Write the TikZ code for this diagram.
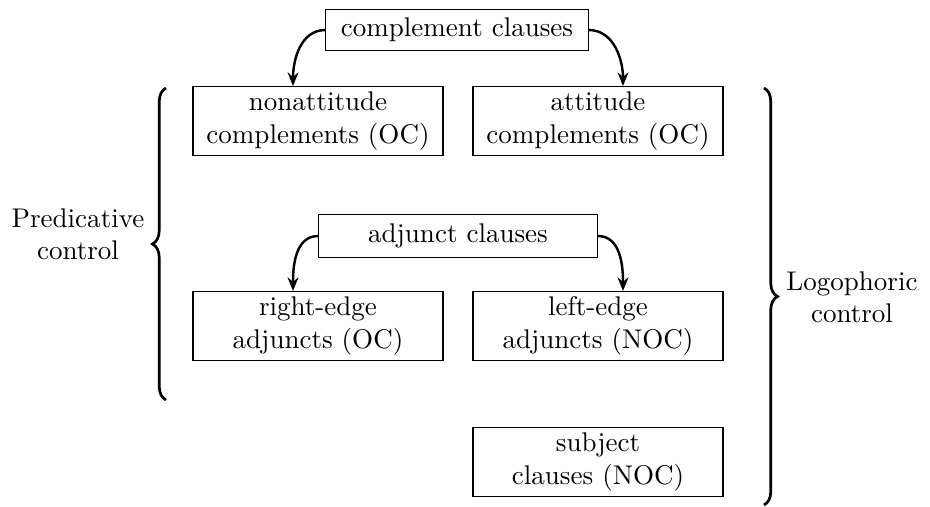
\documentclass[tikz,border=0pt]{standalone}
\usetikzlibrary{arrows.meta,decorations.pathreplacing}
\begin{document}
\begin{tikzpicture}[x=0.37pt,y=-0.37pt,
    box/.style={draw,align=center,minimum width=92.5pt,minimum height=25.5pt,inner sep=2pt},
    head/.style={draw,minimum height=15.5pt,inner xsep=3pt,inner ysep=2pt},
    arr/.style={-{Stealth[length=5pt,width=4pt]},line width=0.9pt},
    brc/.style={decorate,decoration={brace,amplitude=5pt},line width=1pt}]
  \useasboundingbox (0,0) rectangle (930,506);
  % boxes
  \node[head,minimum width=97pt] (cc) at (457,30) {complement clauses};
  \node[box] (nonatt) at (318,121) {nonattitude\\complements (OC)};
  \node[box] (att) at (598,121) {attitude\\complements (OC)};
  \node[head,minimum width=103pt,minimum height=16pt] (ac) at (458,236) {adjunct clauses};
  \node[box] (rea) at (318,326) {right-edge\\adjuncts (OC)};
  \node[box] (lea) at (598,326) {left-edge\\adjuncts (NOC)};
  \node[box] (subj) at (598,462) {subject\\clauses (NOC)};
  % arrows
  \draw[arr] (cc.west) to[out=180,in=90] ([xshift=-9.25pt]nonatt.north);
  \draw[arr] (cc.east) to[out=0,in=90] ([xshift=9.25pt]att.north);
  \draw[arr] (ac.west) to[out=180,in=90] ([xshift=-9.25pt]rea.north);
  \draw[arr] (ac.east) to[out=0,in=90] ([xshift=9.25pt]lea.north);
  % braces
  \coordinate (pcb) at (166,400); \coordinate (pct) at (166,88);
  \coordinate (lct) at (764,88); \coordinate (lcb) at (764,505);
  \draw[brc] (pcb) -- (pct);
  \draw[brc] (lct) -- (lcb);
  \node[align=center] (pc) at (78,234) {Predicative\\control};
  \node[align=center] (lc) at (852,297) {Logophoric\\control};
\end{tikzpicture}
\end{document}
